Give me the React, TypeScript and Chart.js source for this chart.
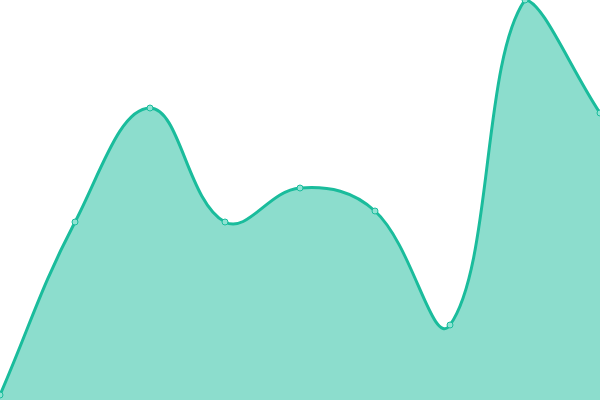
import React, { useRef, useEffect } from "react";
import { Chart, registerables } from "chart.js";

Chart.register(...registerables);

const labels = ["1", "2", "3", "4", "5", "6", "7", "8", "9"];
const values = [5, 178, 292, 178, 212, 189, 75, 400, 287];

const App: React.FC = () => {
  const chartRef = useRef<HTMLCanvasElement>(null);

  useEffect(() => {
    if (!chartRef.current) return;
    document.body.style.margin = "0";

    const chart = new Chart(chartRef.current, {
      type: "line",
      data: {
        labels,
        datasets: [
          {
            data: values,
            borderColor: "#1abc9c",
            backgroundColor: "rgba(26, 188, 156, 0.5)",
            borderWidth: 3,
            fill: true,
            tension: 0.4,
            pointRadius: 3,
            pointBorderWidth: 1,
            pointBackgroundColor: "#8fe3d3",
            pointBorderColor: "#1abc9c",
          },
        ],
      },
      options: {
        animation: false,
        responsive: false,
        maintainAspectRatio: false,
        layout: { padding: 0, autoPadding: false },
        scales: {
          x: { display: false },
          y: { display: false, min: 0, max: 400 },
        },
        plugins: {
          legend: { display: false },
          tooltip: { enabled: false },
        },
      },
    });

    return () => {
      chart.destroy();
    };
  }, []);

  return (
    <div style={{ position: "fixed", left: 0, top: 0, width: 600, height: 400 }}>
      <canvas ref={chartRef} width={600} height={400} />
    </div>
  );
};

export default App;
